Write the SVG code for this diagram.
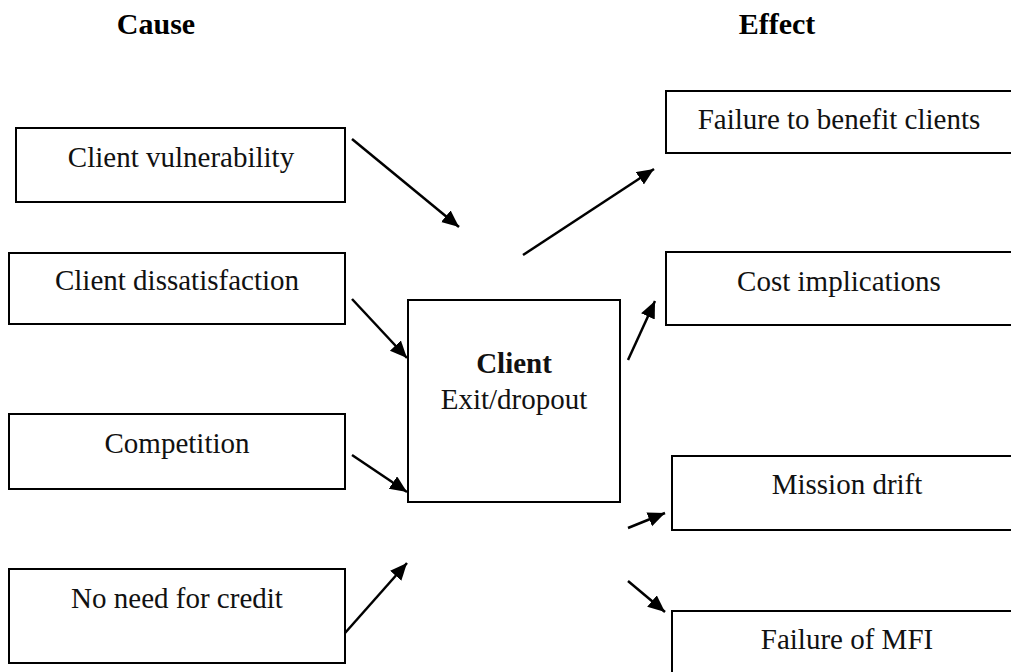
<svg xmlns="http://www.w3.org/2000/svg" width="1011" height="672" viewBox="0 0 1011 672">
  <style>
    .box { fill: #ffffff; stroke: #000000; stroke-width: 2; }
    .lbl { font-family: "Liberation Serif", "Times New Roman", serif; font-size: 29px; fill: #111111; text-anchor: middle; }
    .bold { font-weight: bold; }
    .head { font-family: "Liberation Serif", "Times New Roman", serif; font-size: 30px; font-weight: bold; fill: #000000; text-anchor: middle; }
    .arrow { stroke: #000000; stroke-width: 2.5; fill: none; marker-end: url(#head); }
  </style>
  <defs>
    <marker id="head" markerUnits="userSpaceOnUse" markerWidth="18" markerHeight="16" refX="17" refY="7.5" orient="auto">
      <path d="M0,0 L17,7.5 L0,15 Z" fill="#000000"/>
    </marker>
  </defs>
  <rect width="1011" height="672" fill="#ffffff"/>

  <!-- column headings -->
  <text class="head" x="156" y="34">Cause</text>
  <text class="head" x="777" y="34">Effect</text>

  <!-- causes -->
  <g id="client-vulnerability">
    <rect class="box" x="16" y="128" width="329" height="74"/>
    <text class="lbl" x="181" y="167">Client vulnerability</text>
  </g>
  <g id="client-dissatisfaction">
    <rect class="box" x="9" y="253" width="336" height="71"/>
    <text class="lbl" x="177" y="290">Client dissatisfaction</text>
  </g>
  <g id="competition">
    <rect class="box" x="9" y="414" width="336" height="75"/>
    <text class="lbl" x="177" y="453">Competition</text>
  </g>
  <g id="no-need-for-credit">
    <rect class="box" x="9" y="569" width="336" height="94"/>
    <text class="lbl" x="177" y="608">No need for credit</text>
  </g>

  <!-- central node -->
  <g id="client-exit">
    <rect class="box" x="408" y="300" width="212" height="202"/>
    <text class="lbl bold" x="514" y="373">Client</text>
    <text class="lbl" x="514" y="409">Exit/dropout</text>
  </g>

  <!-- effects -->
  <g id="failure-to-benefit">
    <rect class="box" x="666" y="91" width="360" height="62"/>
    <text class="lbl" x="839" y="129">Failure to benefit clients</text>
  </g>
  <g id="cost-implications">
    <rect class="box" x="666" y="252" width="360" height="73"/>
    <text class="lbl" x="839" y="291">Cost implications</text>
  </g>
  <g id="mission-drift">
    <rect class="box" x="672" y="456" width="360" height="74"/>
    <text class="lbl" x="847" y="494">Mission drift</text>
  </g>
  <g id="failure-of-mfi">
    <rect class="box" x="672" y="611" width="360" height="80"/>
    <text class="lbl" x="847" y="649">Failure of MFI</text>
  </g>

  <!-- connectors -->
  <g id="connectors">
    <line class="arrow" x1="352" y1="139" x2="459" y2="227"/>
    <line class="arrow" x1="352" y1="299" x2="407" y2="358"/>
    <line class="arrow" x1="352" y1="455" x2="407" y2="492"/>
    <line class="arrow" x1="345" y1="633" x2="407" y2="563"/>
    <line class="arrow" x1="523" y1="255" x2="654" y2="169"/>
    <line class="arrow" x1="628" y1="360" x2="655" y2="301"/>
    <line class="arrow" x1="628" y1="528" x2="665" y2="513"/>
    <line class="arrow" x1="628" y1="581" x2="665" y2="612"/>
  </g>
</svg>
